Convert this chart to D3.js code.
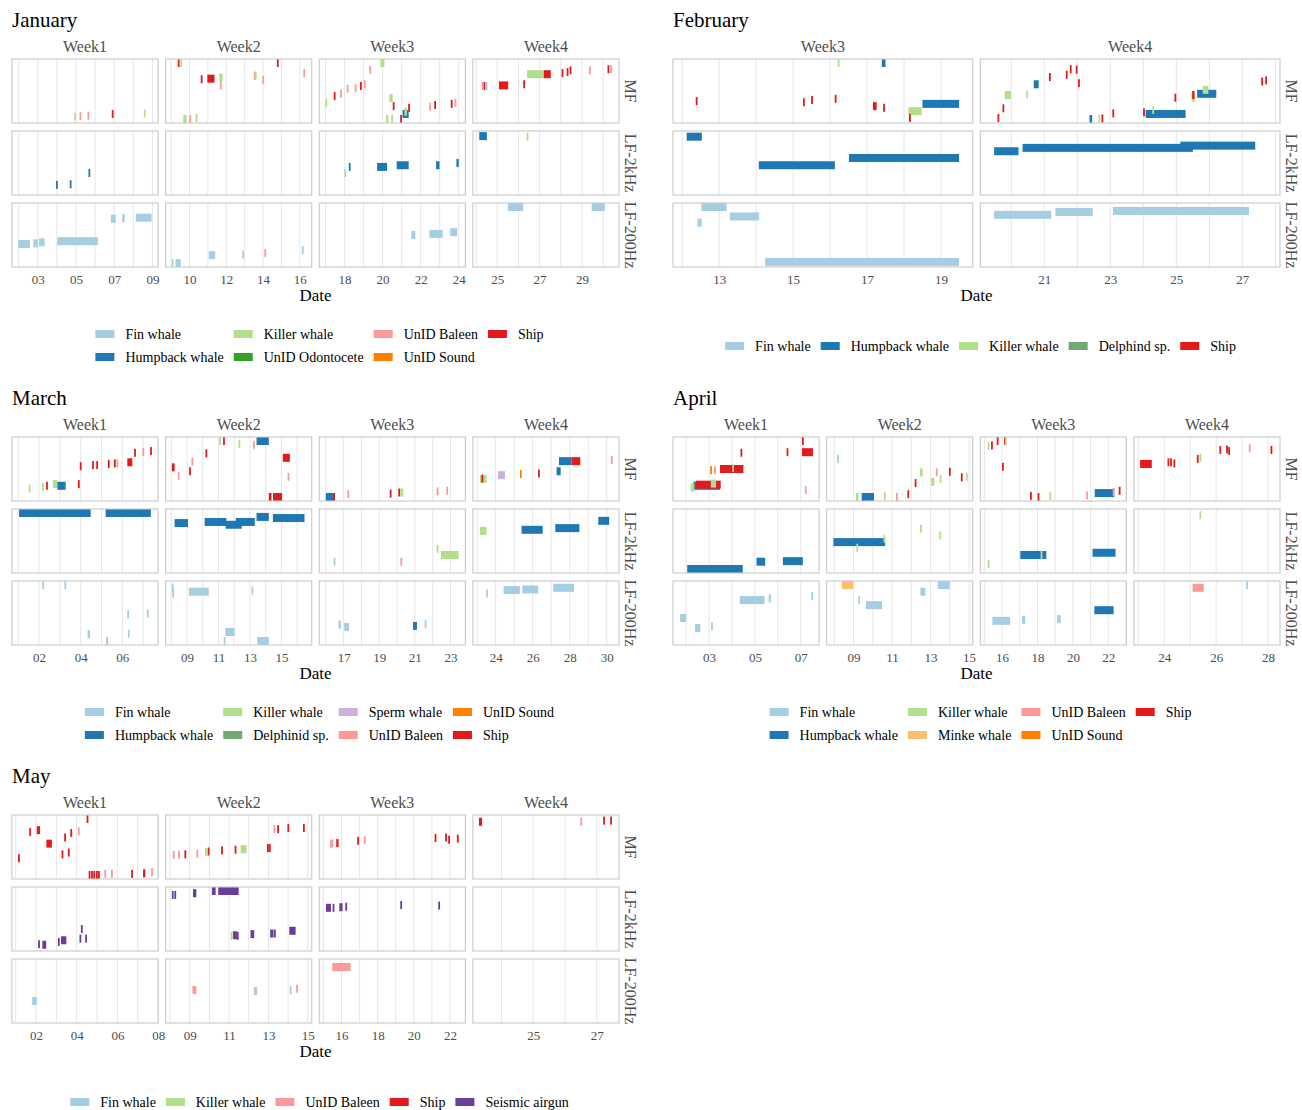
<!DOCTYPE html>
<html>
<head>
<meta charset="utf-8">
<script src="https://cdn.jsdelivr.net/npm/d3@7"></script>
<style>
  body { margin: 0; background: #fff; }
  text { font-family: "Liberation Serif", "DejaVu Serif", serif; }
</style>
</head>
<body>
<script>
// detector rows (facet rows) and sound types
var rowNames = ["MF", "LF-2kHz", "LF-200Hz"];

var typeLabels = {
  fin: "Fin whale", hump: "Humpback whale", kill: "Killer whale",
  odon: "UnID Odontocete", bal: "UnID Baleen", snd: "UnID Sound",
  ship: "Ship", del: "Delphinid sp.", delf: "Delphind sp.",
  sperm: "Sperm whale", minke: "Minke whale", seis: "Seismic airgun"
};

// event = [week, row, type, start day, end day, y (0 bottom .. 1 top)]
var janWeeks = [1, 2, 3, 4];
var janDomains = [[1.65, 9.3], [8.7, 16.65], [16.67, 24.35], [23.85, 30.75]];
var janTicks = [[3, 5, 7, 9], [10, 12, 14, 16], [18, 20, 22, 24], [25, 27, 29]];
var janLegend = ["fin", "hump", "kill", "odon", "bal", "snd", "ship"];
var janEvents = [
  [1,0,"kill",4.96,4.96,0.04],[1,0,"bal",5.23,5.23,0.05],[1,0,"bal",5.65,5.65,0.06],
  [1,0,"ship",6.92,6.92,0.09],[1,0,"kill",8.6,8.6,0.1],
  [1,1,"hump",4.0,4.0,0.11],[1,1,"hump",4.72,4.72,0.12],[1,1,"hump",5.7,5.7,0.32],
  [1,2,"fin",1.98,2.59,0.34],[1,2,"fin",2.77,3.0,0.35],[1,2,"fin",3.06,3.36,0.37],
  [1,2,"fin",4.02,6.14,0.39],[1,2,"fin",6.83,7.08,0.79],[1,2,"fin",7.42,7.55,0.8],
  [1,2,"fin",8.13,8.96,0.81],
  [2,0,"ship",9.41,9.41,1.0],[2,0,"kill",9.55,9.55,1.0],[2,0,"ship",10.66,10.66,0.71],
  [2,0,"ship",10.97,11.36,0.72],[2,0,"kill",11.62,11.8,0.74],[2,0,"bal",11.7,11.7,0.6],
  [2,0,"bal",13.55,13.55,0.77],[2,0,"kill",13.6,13.6,0.78],[2,0,"bal",14.01,14.01,0.7],
  [2,0,"ship",14.8,14.8,1.0],[2,0,"bal",16.24,16.24,0.82],[2,0,"kill",9.66,9.84,0.0],
  [2,0,"bal",10.04,10.04,0.0],[2,0,"kill",10.38,10.38,0.02],
  [2,2,"fin",9.08,9.08,0.0],[2,2,"fin",9.24,9.52,0.0],[2,2,"fin",11.05,11.4,0.14],
  [2,2,"fin",12.92,12.92,0.15],[2,2,"bal",14.12,14.12,0.18],[2,2,"fin",16.16,16.16,0.23],
  [3,0,"kill",17.04,17.04,0.29],[3,0,"ship",17.48,17.48,0.41],[3,0,"bal",17.81,17.81,0.45],
  [3,0,"bal",18.16,18.16,0.54],[3,0,"bal",18.58,18.58,0.55],[3,0,"ship",18.86,18.86,0.59],
  [3,0,"bal",19.06,19.06,0.62],[3,0,"bal",19.35,19.35,0.88],[3,0,"kill",19.88,20.1,1.0],
  [3,0,"kill",20.35,20.53,0.37],[3,0,"ship",20.58,20.58,0.23],[3,0,"kill",20.18,20.3,0.0],
  [3,0,"kill",20.5,20.5,0.0],[3,0,"ship",20.97,20.97,0.0],[3,0,"hump",21.05,21.37,0.09],
  [3,0,"kill",21.15,21.28,0.13],[3,0,"ship",21.39,21.39,0.2],[3,0,"bal",22.5,22.5,0.22],
  [3,0,"ship",22.76,22.76,0.25],[3,0,"ship",23.63,23.63,0.27],[3,0,"bal",23.83,23.83,0.29],
  [3,1,"fin",18.04,18.04,0.32],[3,1,"hump",18.27,18.27,0.43],[3,1,"hump",19.71,20.23,0.43],
  [3,1,"hump",20.74,21.37,0.46],[3,1,"hump",22.81,22.99,0.46],[3,1,"hump",23.88,24.0,0.5],
  [3,2,"fin",21.51,21.72,0.5],[3,2,"fin",22.46,23.16,0.52],[3,2,"fin",23.55,23.92,0.55],
  [4,0,"bal",24.31,24.31,0.59],[4,0,"ship",24.4,24.4,0.59],[4,0,"fin",24.5,24.5,0.59],
  [4,0,"ship",25.08,25.52,0.6],[4,0,"ship",26.27,26.27,0.62],[4,0,"kill",26.41,27.2,0.8],
  [4,0,"ship",27.2,27.53,0.8],[4,0,"ship",28.08,28.08,0.82],[4,0,"ship",28.32,28.32,0.84],
  [4,0,"ship",28.46,28.46,0.87],[4,0,"bal",29.38,29.38,0.87],[4,0,"ship",30.25,30.25,0.89],
  [4,0,"bal",30.38,30.38,0.89],
  [4,1,"hump",24.15,24.51,0.98],[4,1,"kill",26.43,26.43,0.97],
  [4,2,"fin",25.5,26.22,1.0],[4,2,"fin",29.46,30.08,1.0]
];

var febWeeks = [3, 4];
var febDomains = [[11.75, 19.86], [19.06, 28.14]];
var febTicks = [[13, 15, 17, 19], [21, 23, 25, 27]];
var febLegend = ["fin", "hump", "kill", "delf", "ship"];
var febEvents = [
  [3,0,"kill",16.23,16.23,1.0],[3,0,"hump",17.4,17.5,1.0],[3,0,"ship",12.39,12.39,0.32],
  [3,0,"ship",15.29,15.29,0.3],[3,0,"ship",15.51,15.51,0.34],[3,0,"ship",16.15,16.15,0.36],
  [3,0,"ship",17.16,17.26,0.23],[3,0,"ship",17.46,17.46,0.2],[3,0,"kill",18.12,18.48,0.14],
  [3,0,"ship",18.16,18.16,0.02],[3,0,"hump",18.5,19.49,0.27],
  [3,1,"hump",12.12,12.53,0.97],[3,1,"hump",14.07,16.13,0.46],[3,1,"hump",16.51,19.49,0.59],
  [3,2,"fin",12.52,13.2,1.0],[3,2,"fin",13.29,14.08,0.83],[3,2,"fin",12.41,12.53,0.72],
  [3,2,"fin",14.24,19.49,0.02],
  [4,0,"ship",19.61,19.61,0.02],[4,0,"ship",19.76,19.76,0.19],[4,0,"kill",19.8,19.99,0.43],
  [4,0,"kill",20.48,20.48,0.44],[4,0,"hump",20.68,20.83,0.62],[4,0,"ship",21.17,21.17,0.75],
  [4,0,"ship",21.68,21.68,0.79],[4,0,"ship",21.8,21.8,0.89],[4,0,"ship",21.98,21.98,0.88],
  [4,0,"ship",22.05,22.05,0.64],[4,0,"hump",22.37,22.45,0.0],[4,0,"kill",22.67,22.67,0.0],
  [4,0,"ship",22.76,22.76,0.01],[4,0,"ship",23.09,23.09,0.1],[4,0,"ship",24.02,24.02,0.12],
  [4,0,"hump",24.07,25.28,0.09],[4,0,"kill",24.3,24.3,0.16],[4,0,"ship",24.97,24.97,0.38],
  [4,0,"kill",25.46,25.56,0.38],[4,0,"ship",25.48,25.55,0.43],[4,0,"hump",25.63,26.21,0.45],
  [4,0,"kill",25.8,25.97,0.52],[4,0,"ship",27.6,27.6,0.67],[4,0,"ship",27.72,27.72,0.69],
  [4,1,"hump",19.48,20.22,0.71],[4,1,"hump",20.34,25.5,0.77],[4,1,"hump",25.12,27.39,0.81],
  [4,2,"fin",19.48,21.21,0.86],[4,2,"fin",21.34,22.47,0.91],[4,2,"fin",23.08,27.2,0.93]
];

var marWeeks = [1, 2, 3, 4];
var marDomains = [[0.7, 7.72], [7.64, 16.93], [15.63, 23.84], [22.77, 30.66]];
var marTicks = [[2, 4, 6], [9, 11, 13, 15], [17, 19, 21, 23], [24, 26, 28, 30]];
var marLegend = ["fin", "hump", "kill", "del", "sperm", "bal", "snd", "ship"];
var marEvents = [
  [1,0,"kill",1.55,1.55,0.15],[1,0,"kill",2.18,2.18,0.18],[1,0,"ship",2.38,2.38,0.2],
  [1,0,"kill",2.66,2.88,0.23],[1,0,"hump",2.88,3.28,0.2],[1,0,"ship",3.91,3.91,0.23],
  [1,0,"ship",4.0,4.0,0.55],[1,0,"ship",4.59,4.59,0.57],[1,0,"ship",4.79,4.79,0.57],
  [1,0,"ship",5.35,5.35,0.59],[1,0,"ship",5.64,5.64,0.6],[1,0,"bal",5.76,5.76,0.6],
  [1,0,"ship",6.24,6.48,0.62],[1,0,"ship",6.61,6.61,0.79],[1,0,"bal",7.01,7.01,0.8],
  [1,0,"ship",7.38,7.38,0.82],
  [1,1,"hump",1.04,4.48,1.0],[1,1,"hump",5.2,7.37,1.0],
  [1,2,"fin",2.2,2.2,1.0],[1,2,"fin",3.26,3.26,1.0],[1,2,"fin",6.28,6.28,0.48],
  [1,2,"fin",7.22,7.3,0.49],[1,2,"fin",4.33,4.45,0.12],[1,2,"fin",6.31,6.31,0.13],
  [1,2,"fin",5.22,5.32,0.0],
  [2,0,"ship",8.04,8.21,0.53],[2,0,"bal",8.47,8.47,0.38],[2,0,"bal",9.34,9.34,0.63],
  [2,0,"ship",9.19,9.19,0.46],[2,0,"ship",10.23,10.23,0.78],[2,0,"kill",11.1,11.1,1.0],
  [2,0,"ship",11.35,11.35,1.0],[2,0,"kill",12.33,12.33,0.95],[2,0,"bal",13.26,13.26,0.93],
  [2,0,"hump",13.42,14.2,1.0],[2,0,"ship",15.09,15.54,0.7],[2,0,"bal",15.45,15.45,0.36],
  [2,0,"ship",14.2,14.37,0.0],[2,0,"ship",14.47,15.04,0.0],
  [2,1,"hump",8.21,9.06,0.82],[2,1,"hump",10.12,11.5,0.84],[2,1,"hump",11.46,12.48,0.79],
  [2,1,"hump",12.1,13.31,0.84],[2,1,"hump",13.42,14.2,0.93],[2,1,"hump",14.46,16.47,0.91],
  [2,2,"fin",8.09,8.09,0.95],[2,2,"fin",8.12,8.12,0.85],[2,2,"fin",9.12,10.38,0.88],
  [2,2,"fin",13.16,13.16,0.9],[2,2,"fin",11.44,12.03,0.16],[2,2,"fin",13.46,14.2,0.0],
  [2,2,"fin",11.39,11.39,0.0],
  [3,0,"hump",16.0,16.47,0.0],[3,0,"ship",16.47,16.47,0.0],[3,0,"bal",17.26,17.26,0.05],
  [3,0,"ship",19.64,19.64,0.06],[3,0,"ship",20.12,20.12,0.08],[3,0,"kill",20.18,20.35,0.08],
  [3,0,"bal",22.28,22.28,0.1],[3,0,"bal",22.82,22.82,0.11],
  [3,1,"fin",16.49,16.49,0.13],[3,1,"bal",20.24,20.24,0.13],[3,1,"kill",22.28,22.28,0.36],
  [3,1,"kill",22.47,23.46,0.25],
  [3,2,"fin",16.71,16.85,0.29],[3,2,"fin",17.03,17.3,0.25],[3,2,"hump",20.9,21.12,0.27],
  [3,2,"fin",21.6,21.6,0.3],
  [4,0,"kill",23.15,23.51,0.32],[4,0,"ship",23.28,23.28,0.33],[4,0,"sperm",24.12,24.5,0.39],
  [4,0,"snd",25.36,25.36,0.41],[4,0,"ship",26.34,26.34,0.42],[4,0,"hump",27.29,27.51,0.46],
  [4,0,"hump",27.42,28.1,0.64],[4,0,"ship",28.1,28.57,0.64],[4,0,"bal",30.27,30.27,0.66],
  [4,1,"kill",23.15,23.51,0.68],[4,1,"hump",25.4,26.54,0.7],[4,1,"hump",27.22,28.52,0.73],
  [4,1,"hump",29.54,30.13,0.86],
  [4,2,"fin",23.54,23.54,0.85],[4,2,"fin",24.43,25.31,0.91],[4,2,"fin",25.44,26.3,0.92],
  [4,2,"fin",27.11,28.23,0.95]
];

var aprWeeks = [1, 2, 3, 4];
var aprDomains = [[1.43, 7.8], [7.6, 15.19], [14.77, 23.02], [22.83, 28.46]];
var aprTicks = [[3, 5, 7], [9, 11, 13, 15], [16, 18, 20, 22], [24, 26, 28]];
var aprLegend = ["fin", "hump", "kill", "minke", "bal", "snd", "ship"];
var aprEvents = [
  [1,0,"ship",7.09,7.09,1.0],[1,0,"ship",4.41,4.41,0.79],[1,0,"ship",6.42,6.42,0.8],
  [1,0,"ship",7.05,7.53,0.8],[1,0,"snd",3.09,3.09,0.48],[1,0,"bal",3.26,3.26,0.48],
  [1,0,"ship",3.48,4.5,0.5],[1,0,"kill",4.05,4.12,0.52],[1,0,"hump",2.32,3.48,0.2],
  [1,0,"kill",2.2,2.36,0.17],[1,0,"ship",2.42,3.51,0.22],[1,0,"kill",3.08,3.31,0.24],
  [1,0,"bal",7.22,7.22,0.12],
  [1,1,"hump",2.05,4.47,0.0],[1,1,"hump",5.07,5.45,0.13],[1,1,"hump",6.22,7.09,0.14],
  [1,2,"fin",7.5,7.5,0.8],[1,2,"fin",4.34,5.42,0.73],[1,2,"fin",5.6,5.7,0.76],
  [1,2,"fin",1.74,2.0,0.41],[1,2,"fin",2.39,2.62,0.23],[1,2,"fin",3.13,3.2,0.26],
  [2,0,"fin",8.19,8.19,0.68],[2,0,"kill",9.12,9.26,0.0],[2,0,"hump",9.42,10.06,0.0],
  [2,0,"kill",10.62,10.62,0.02],[2,0,"bal",11.25,11.25,0.0],[2,0,"ship",11.84,11.84,0.05],
  [2,0,"ship",12.22,12.22,0.25],[2,0,"kill",12.45,12.59,0.44],[2,0,"bal",13.32,13.32,0.44],
  [2,0,"kill",13.03,13.2,0.27],[2,0,"kill",13.52,13.52,0.32],[2,0,"ship",14.0,14.0,0.45],
  [2,0,"ship",14.62,14.62,0.35],[2,0,"kill",14.88,14.88,0.36],
  [2,1,"hump",7.95,10.64,0.48],[2,1,"kill",10.6,10.6,0.54],[2,1,"kill",9.19,9.19,0.38],
  [2,1,"kill",12.5,12.5,0.72],[2,1,"kill",13.5,13.5,0.6],
  [2,2,"minke",8.39,8.98,1.0],[2,2,"fin",9.29,9.29,0.73],[2,2,"fin",9.64,10.48,0.64],
  [2,2,"fin",12.47,12.73,0.88],[2,2,"fin",13.37,13.99,1.0],
  [3,0,"kill",15.24,15.24,0.91],[3,0,"ship",15.43,15.43,0.92],[3,0,"ship",15.75,15.75,1.0],
  [3,0,"ship",16.17,16.17,1.0],[3,0,"kill",16.22,16.22,1.0],[3,0,"ship",16.05,16.05,0.54],
  [3,0,"ship",17.63,17.63,0.02],[3,0,"ship",18.06,18.06,0.0],[3,0,"kill",18.72,18.72,0.02],
  [3,0,"bal",20.8,20.8,0.03],[3,0,"hump",21.23,22.34,0.07],[3,0,"bal",22.3,22.3,0.09],
  [3,0,"ship",22.64,22.64,0.11],
  [3,1,"kill",15.24,15.24,0.09],[3,1,"hump",17.03,18.5,0.25],[3,1,"kill",18.23,18.23,0.25],
  [3,1,"hump",21.11,22.41,0.29],
  [3,2,"hump",21.21,22.3,0.55],[3,2,"fin",15.46,16.46,0.36],[3,2,"fin",17.13,17.31,0.38],
  [3,2,"fin",19.11,19.31,0.39],
  [4,0,"ship",23.07,23.52,0.59],[4,0,"ship",24.16,24.16,0.62],[4,0,"ship",24.26,24.26,0.62],
  [4,0,"ship",24.39,24.39,0.6],[4,0,"ship",25.29,25.29,0.68],[4,0,"kill",25.39,25.45,0.7],
  [4,0,"ship",26.16,26.16,0.84],[4,0,"ship",26.42,26.42,0.85],[4,0,"ship",26.5,26.5,0.82],
  [4,0,"bal",27.29,27.29,0.87],[4,0,"ship",28.13,28.18,0.84],
  [4,1,"kill",25.39,25.45,0.96],
  [4,2,"bal",25.09,25.52,0.95],[4,2,"fin",27.19,27.19,1.0]
];

var mayWeeks = [1, 2, 3, 4];
var mayDomains = [[0.82, 8.0], [7.78, 15.2], [14.77, 22.85], [23.1, 27.7]];
var mayTicks = [[2, 4, 6, 8], [9, 11, 13, 15], [16, 18, 20, 22], [25, 27]];
var mayLegend = ["fin", "kill", "bal", "ship", "seis"];
var mayEvents = [
  [1,0,"ship",1.16,1.16,0.3],[1,0,"ship",1.71,1.71,0.77],[1,0,"ship",2.04,2.2,0.8],
  [1,0,"ship",2.51,2.78,0.56],[1,0,"ship",3.43,3.43,0.67],[1,0,"ship",3.3,3.3,0.37],
  [1,0,"ship",3.61,3.61,0.4],[1,0,"ship",3.73,3.73,0.75],[1,0,"bal",4.1,4.1,0.78],
  [1,0,"ship",4.53,4.53,1.0],[1,0,"ship",4.63,4.63,0.0],[1,0,"ship",4.75,4.75,0.0],
  [1,0,"ship",4.86,4.86,0.0],[1,0,"ship",4.99,4.99,0.0],[1,0,"ship",5.09,5.09,0.0],
  [1,0,"bal",5.4,5.4,0.02],[1,0,"bal",5.73,5.73,0.02],[1,0,"ship",6.72,6.72,0.02],
  [1,0,"ship",7.26,7.37,0.03],[1,0,"bal",7.7,7.7,0.05],
  [1,1,"seis",2.15,2.15,0.05],[1,1,"seis",2.31,2.5,0.04],[1,1,"seis",3.12,3.12,0.09],
  [1,1,"seis",3.23,3.49,0.12],[1,1,"seis",4.18,4.18,0.15],[1,1,"seis",4.25,4.25,0.32],
  [1,1,"seis",4.46,4.46,0.15],
  [1,2,"fin",1.81,2.04,0.32],
  [2,0,"bal",8.19,8.19,0.36],[2,0,"bal",8.46,8.46,0.36],[2,0,"ship",8.78,8.78,0.37],
  [2,0,"bal",9.39,9.39,0.38],[2,0,"kill",9.83,9.83,0.41],[2,0,"ship",9.96,9.96,0.42],
  [2,0,"ship",10.64,10.64,0.44],[2,0,"ship",11.33,11.33,0.45],[2,0,"kill",11.59,11.89,0.46],
  [2,0,"ship",12.97,12.97,0.48],[2,0,"ship",13.07,13.07,0.48],[2,0,"bal",13.3,13.3,0.82],
  [2,0,"ship",13.49,13.49,0.82],[2,0,"ship",14.01,14.01,0.84],[2,0,"ship",14.8,14.8,0.84],
  [2,1,"seis",8.14,8.14,0.93],[2,1,"seis",8.27,8.27,0.93],[2,1,"seis",9.17,9.34,0.96],
  [2,1,"seis",10.13,10.32,1.0],[2,1,"seis",10.45,11.49,1.0],[2,1,"kill",11.13,11.13,0.2],
  [2,1,"seis",11.2,11.4,0.21],[2,1,"seis",11.44,11.44,0.2],[2,1,"seis",12.09,12.28,0.23],
  [2,1,"seis",13.09,13.26,0.24],[2,1,"seis",13.33,13.33,0.24],[2,1,"seis",14.06,14.38,0.29],
  [2,2,"bal",9.14,9.34,0.52],[2,2,"fin",12.26,12.43,0.5],[2,2,"fin",14.13,14.13,0.52],
  [2,2,"bal",14.45,14.45,0.54],
  [3,0,"bal",15.42,15.42,0.55],[3,0,"bal",15.5,15.5,0.57],[3,0,"ship",15.71,15.84,0.57],
  [3,0,"ship",16.92,16.92,0.61],[3,0,"bal",17.29,17.29,0.62],[3,0,"ship",21.2,21.2,0.66],
  [3,0,"ship",21.78,21.86,0.67],[3,0,"ship",21.95,21.95,0.63],[3,0,"ship",22.43,22.43,0.65],
  [3,1,"seis",15.14,15.42,0.7],[3,1,"seis",15.56,15.56,0.7],[3,1,"seis",15.88,16.06,0.71],
  [3,1,"seis",16.26,16.26,0.72],[3,1,"seis",19.3,19.3,0.75],[3,1,"seis",21.4,21.4,0.74],
  [3,2,"bal",15.49,16.5,0.93],
  [4,0,"ship",23.29,23.39,0.95],[4,0,"bal",26.51,26.51,0.95],[4,0,"ship",27.23,27.23,0.97],
  [4,0,"ship",27.45,27.45,0.97]
];

var months = [
  { name: "January",  weeks: janWeeks, domains: janDomains, ticks: janTicks, legend: janLegend, events: janEvents },
  { name: "February", weeks: febWeeks, domains: febDomains, ticks: febTicks, legend: febLegend, events: febEvents },
  { name: "March",    weeks: marWeeks, domains: marDomains, ticks: marTicks, legend: marLegend, events: marEvents },
  { name: "April",    weeks: aprWeeks, domains: aprDomains, ticks: aprTicks, legend: aprLegend, events: aprEvents },
  { name: "May",      weeks: mayWeeks, domains: mayDomains, ticks: mayTicks, legend: mayLegend, events: mayEvents }
];

var color = {
  fin: "#a6cee3", hump: "#1f78b4", kill: "#b2df8a", odon: "#33a02c",
  bal: "#fb9a99", snd: "#ff7f00", ship: "#e31a1c", del: "#72a972", delf: "#72a972",
  sperm: "#cab2d6", minke: "#fdbf6f", seis: "#6a3d9a"
};

// layout of the five month blocks: [left, right, top]
var blocks = [[12, 619, 0], [673, 1280, 0], [12, 619, 378], [673, 1280, 378], [12, 619, 756]];

var panelTop = 59, panelH = 64, rowGap = 8, facetGap = 7.5, barH = 8;
var fmt = d3.format("02d");

var svg = d3.select("body")
  .append("svg")
  .attr("width", 1302)
  .attr("height", 1110);

months.forEach(function (m, mi) {
  var left = blocks[mi][0], right = blocks[mi][1], top = blocks[mi][2];
  var g = svg.append("g").attr("transform", "translate(0," + top + ")");

  g.append("text")
    .attr("x", left)
    .attr("y", 27)
    .attr("font-size", 21)
    .attr("fill", "#000")
    .text(m.name);

  var n = m.weeks.length;
  var fw = (right - left - facetGap * (n - 1)) / n;

  m.weeks.forEach(function (w, i) {
    var fx = left + i * (fw + facetGap);
    var x = d3.scaleLinear().domain(m.domains[i]).range([fx, fx + fw]);

    g.append("text")
      .attr("x", fx + fw / 2)
      .attr("y", 51.5)
      .attr("text-anchor", "middle")
      .attr("font-size", 16)
      .attr("fill", "#4d4d4d")
      .text("Week" + w);

    rowNames.forEach(function (r, j) {
      var py = panelTop + j * (panelH + rowGap);
      var y = d3.scaleLinear().domain([0, 1]).range([py + panelH - barH / 2, py + barH / 2]);
      var days = d3.range(Math.ceil(m.domains[i][0]), Math.floor(m.domains[i][1]) + 1);

      g.selectAll(null)
        .data(days)
        .enter()
        .append("line")
        .attr("x1", function (d) { return x(d); })
        .attr("x2", function (d) { return x(d); })
        .attr("y1", py)
        .attr("y2", py + panelH)
        .attr("stroke", "#e6e6e6")
        .attr("stroke-width", 1);

      var evs = m.events.filter(function (e) { return e[0] === w && e[1] === j; });
      g.selectAll(null)
        .data(evs)
        .enter()
        .append("rect")
        .attr("x", function (e) {
          var w0 = x(e[4]) - x(e[3]);
          return w0 < 1.8 ? x(e[3]) - 0.9 : x(e[3]);
        })
        .attr("width", function (e) { return Math.max(1.8, x(e[4]) - x(e[3])); })
        .attr("y", function (e) { return y(e[5]) - barH / 2; })
        .attr("height", barH)
        .attr("fill", function (e) { return color[e[2]]; });

      g.append("rect")
        .attr("x", fx)
        .attr("y", py)
        .attr("width", fw)
        .attr("height", panelH)
        .attr("fill", "none")
        .attr("stroke", "#c8c8c8")
        .attr("stroke-width", 1.1);

      if (i === n - 1) {
        g.append("text")
          .attr("transform", "translate(" + (right + 11) + "," + (py + panelH / 2) + ") rotate(90)")
          .attr("text-anchor", "middle")
          .attr("dominant-baseline", "central")
          .attr("font-size", 16)
          .attr("fill", "#4d4d4d")
          .text(r);
      }
    });

    var axisY = panelTop + 3 * panelH + 2 * rowGap;
    var ax = g.append("g")
      .attr("transform", "translate(0," + axisY + ")")
      .call(d3.axisBottom(x).tickValues(m.ticks[i]).tickFormat(fmt).tickSize(0).tickPadding(8));
    ax.select(".domain").remove();
    ax.selectAll("text")
      .attr("font-family", "Liberation Serif, serif")
      .attr("font-size", 13)
      .attr("fill", "#4d4d4d");
  });

  g.append("text")
    .attr("x", (left + right) / 2)
    .attr("y", 301)
    .attr("text-anchor", "middle")
    .attr("font-size", 17)
    .attr("fill", "#000")
    .text("Date");

  // legend, filled column by column
  var nrow = m.legend.length > 5 ? 2 : 1;
  var ncol = Math.ceil(m.legend.length / nrow);
  var rowsY = nrow === 2 ? [334, 357] : [346];
  var lg = g.append("g");
  var items = m.legend.map(function (code, k) {
    var t = lg.append("text")
      .attr("font-size", 14)
      .attr("fill", "#000")
      .text(typeLabels[code]);
    return { code: code, col: Math.floor(k / nrow), row: k % nrow, node: t, w: t.node().getComputedTextLength() };
  });
  var colW = d3.range(ncol).map(function (c) {
    return 30 + d3.max(items.filter(function (it) { return it.col === c; }), function (it) { return it.w; }) + 10;
  });
  var total = d3.sum(colW) - 10;
  var x0 = (left + right) / 2 + 4 - total / 2;
  items.forEach(function (it) {
    var cx = x0 + d3.sum(colW.slice(0, it.col));
    var cy = rowsY[it.row];
    lg.append("rect")
      .attr("x", cx)
      .attr("y", cy - 4)
      .attr("width", 19)
      .attr("height", 8)
      .attr("fill", color[it.code]);
    it.node.attr("x", cx + 30).attr("y", cy + 5);
  });
});
</script>
</body>
</html>
